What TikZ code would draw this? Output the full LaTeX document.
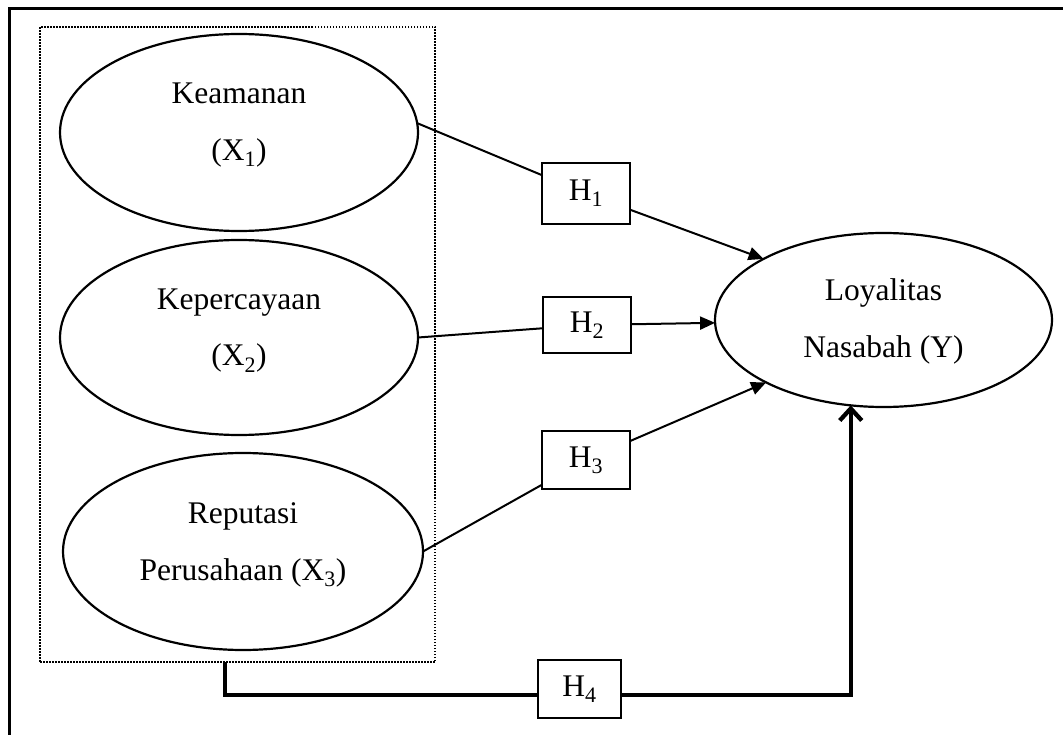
\documentclass[tikz,border=0pt]{standalone}
\usepackage{fontspec}
\setmainfont{Liberation Serif}
\usetikzlibrary{arrows.meta,shapes.geometric}
\newcommand\tstrut[1]{\rule{0pt}{#1}}
\newcommand\bstrut[1]{\rule[-#1]{0pt}{#1}}
\begin{document}
\begin{tikzpicture}[x=1pt,y=-1pt,
  every node/.style={inner sep=0pt, outer sep=0pt, font=\fontsize{31.5}{57}\selectfont},
  var/.style={draw, ellipse, line width=2.2pt, align=center},
  hyp/.style={draw, rectangle, line width=2.6pt, minimum width=88pt},
  grpbox/.style={draw, rectangle, line width=1.5pt, dash pattern=on 1.5pt off 1.5pt},
  conn/.style={line width=2pt},
  arr/.style={conn, -{Triangle[length=15pt,width=13pt]}},
  boldline/.style={line width=4.3pt},
]
\useasboundingbox (0,0) rectangle (1063,735);
% outer frame
\draw[line width=3pt] (9,735) -- (9,9) -- (1063,9);

% group box
\node[grpbox, minimum width=395pt, minimum height=635pt] (grp) at (237.5,344.5) {};

% variables
\node[var, minimum width=358pt, minimum height=197pt] (X1) at (239,132.5)
  {\tstrut{22pt}Keamanan\\(X\textsubscript{1})\bstrut{22pt}};
\node[var, minimum width=358pt, minimum height=195pt] (X2) at (239,337.5)
  {\tstrut{22pt}Kepercayaan\\(X\textsubscript{2})\bstrut{22pt}};
\node[var, minimum width=360pt, minimum height=197pt] (X3) at (243,551.5)
  {\tstrut{22pt}Reputasi\\Perusahaan (X\textsubscript{3})\bstrut{22pt}};
\node[var, minimum width=337pt, minimum height=174pt] (Y) at (883.5,320)
  {\tstrut{30pt}Loyalitas\\Nasabah (Y)\bstrut{13pt}};

% hypotheses
\node[hyp, minimum height=61pt] (H1) at (586,193.5) {H\textsubscript{1}};
\node[hyp, minimum height=56pt] (H2) at (587,325) {H\textsubscript{2}};
\node[hyp, minimum height=58pt] (H3) at (586,460) {H\textsubscript{3}};
\node[hyp, minimum width=83pt, minimum height=58pt] (H4) at (579.5,689) {H\textsubscript{4}};

% connectors
\draw[conn] (X1.3) -- (H1);
\draw[arr] (H1) -- (Y.153);
\draw[conn] (X2.east) -- (H2);
\draw[arr] (H2) -- (Y);
\draw[conn] (X3.east) -- (H3);
\draw[arr] (H3) -- (Y.208);
\draw[boldline] ([xshift=185pt]grp.south west) |- ([yshift=-6pt]H4.west);
\draw[boldline, -{Straight Barb[length=12pt,width=22pt]}] ([yshift=-6pt]H4.east) -| (Y.249);
\end{tikzpicture}
\end{document}
